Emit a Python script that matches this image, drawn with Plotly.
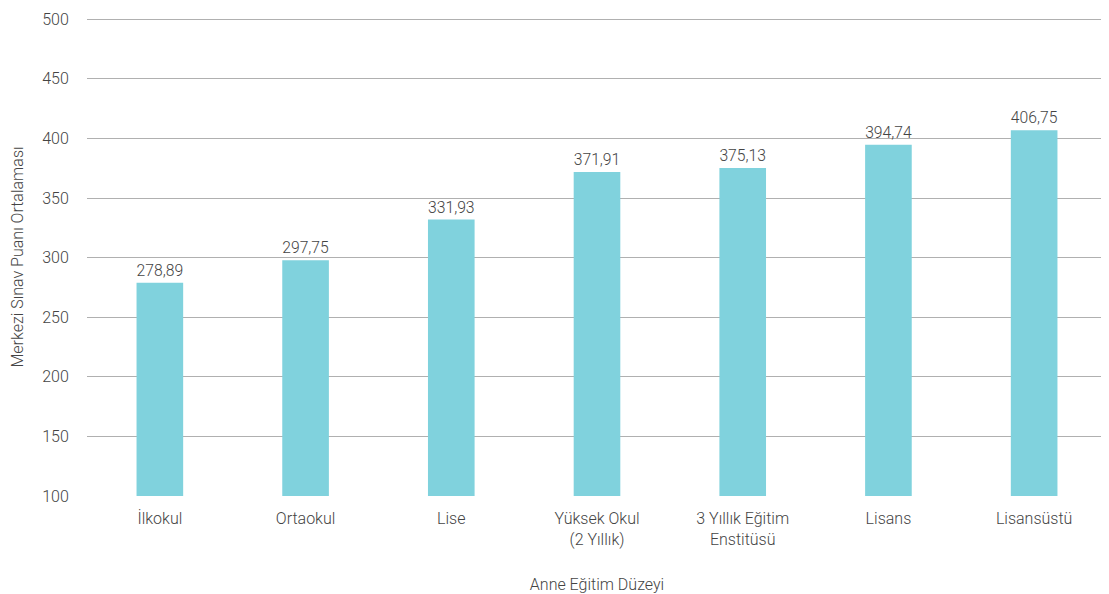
import plotly.graph_objects as go

categories = ["İlkokul", "Ortaokul", "Lise", "Yüksek Okul<br>(2 Yıllık)",
              "3 Yıllık Eğitim<br>Enstitüsü", "Lisans", "Lisansüstü"]
values = [278.89, 297.75, 331.93, 371.91, 375.13, 394.74, 406.75]
y_ticks = [100, 150, 200, 250, 300, 350, 400, 450, 500]

FONT = dict(family="Roboto", size=16, color="#444", weight=300)

fig = go.Figure(go.Bar(
    x=categories, y=values,
    marker=dict(color="#80d2dd", line=dict(width=0)),
    width=0.32,
    text=[f"{v:.2f}".replace(".", ",") for v in values],
    textposition="outside",
    textfont=FONT,
    cliponaxis=False,
))

fig.update_layout(
    width=1109, height=594,
    margin=dict(l=79, r=10, t=10, b=106),
    plot_bgcolor="white", paper_bgcolor="white",
    font=FONT,
    showlegend=False,
    xaxis=dict(title=dict(text="Anne Eğitim Düzeyi", standoff=30, font=FONT),
               showgrid=False, showline=False,
               ticks="outside", ticklen=8, tickcolor="rgba(0,0,0,0)",
               tickfont=FONT, automargin=False),
    yaxis=dict(title=dict(text="Merkezi Sınav Puanı Ortalaması", standoff=18, font=FONT),
               range=[100, 501], tickvals=y_ticks,
               showgrid=True, gridcolor="#b0b0b0", gridwidth=1,
               zeroline=False, showline=False,
               ticks="outside", ticklen=14, tickcolor="rgba(0,0,0,0)",
               ticklabeloverflow="allow",
               tickfont=FONT, automargin=False),
)

fig.write_html("out.html")
